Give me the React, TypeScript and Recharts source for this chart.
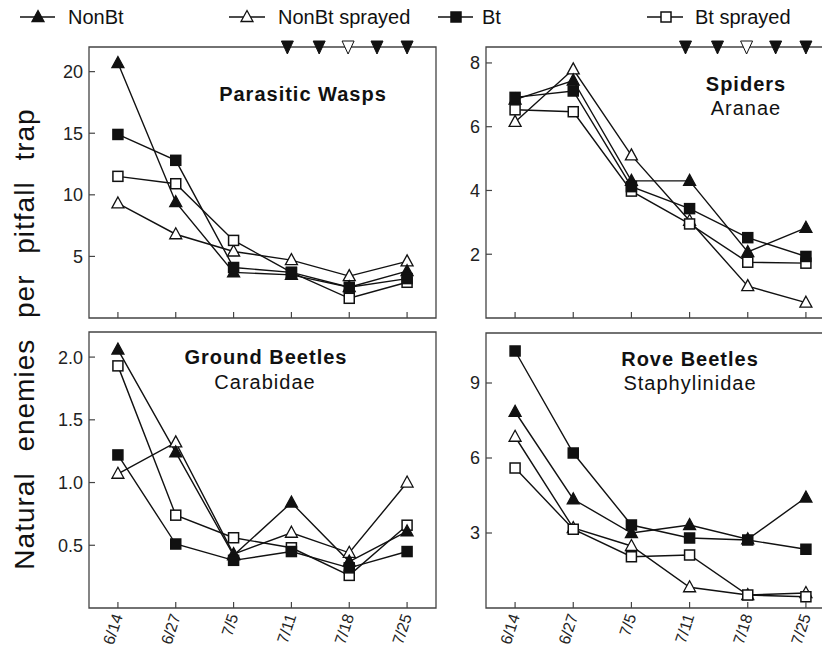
import React from "react";
import { LineChart, Line, XAxis, YAxis, ReferenceArea } from "recharts";

const dates = ["6/14", "6/27", "7/5", "7/11", "7/18", "7/25"];
// spray events shown above the top panels (category index units)
const sprayDays = [2.93, 3.48, 3.98, 4.48, 5.0];
const sprayOpen = [false, false, true, false, false];

const waspNonBt = [20.7, 9.4, 3.7, 3.5, 2.5, 3.8];
const waspNonBtSprayed = [9.3, 6.8, 5.4, 4.7, 3.4, 4.6];
const waspBt = [14.9, 12.8, 4.1, 3.7, 2.5, 3.2];
const waspBtSprayed = [11.5, 10.9, 6.3, 3.7, 1.6, 2.9];

const spiderNonBt = [6.85, 7.45, 4.3, 4.3, 2.07, 2.83];
const spiderNonBtSprayed = [6.15, 7.8, 5.1, 3.05, 1.0, 0.48];
const spiderBt = [6.92, 7.12, 4.12, 3.43, 2.52, 1.93];
const spiderBtSprayed = [6.53, 6.47, 3.98, 2.95, 1.75, 1.72];

const groundNonBt = [2.06, 1.24, 0.42, 0.84, 0.37, 0.61];
const groundNonBtSprayed = [1.07, 1.32, 0.43, 0.6, 0.44, 1.0];
const groundBt = [1.22, 0.51, 0.38, 0.45, 0.32, 0.45];
const groundBtSprayed = [1.93, 0.74, 0.56, 0.48, 0.26, 0.66];

const roveNonBt = [7.85, 4.35, 3.0, 3.32, 2.75, 4.42];
const roveNonBtSprayed = [6.85, 3.2, 2.48, 0.83, 0.52, 0.6];
const roveBt = [10.28, 6.2, 3.32, 2.8, 2.72, 2.35];
const roveBtSprayed = [5.6, 3.15, 2.05, 2.12, 0.52, 0.45];

const FONT = "'Liberation Sans', Arial, sans-serif";
const INK = "#111";
const BOX = "#444";

type Shape = "triFill" | "triOpen" | "sqFill" | "sqOpen";

function marker(shape: Shape, cx: number, cy: number, key?: string) {
  if (shape === "triFill" || shape === "triOpen") {
    const open = shape === "triOpen";
    return (
      <path
        key={key}
        d={`M${cx},${cy - 6.5}L${cx + 6},${cy + 4.5}L${cx - 6},${cy + 4.5}Z`}
        fill={open ? "#fff" : INK}
        stroke={INK}
        strokeWidth={1.3}
      />
    );
  }
  const open = shape === "sqOpen";
  return (
    <rect
      key={key}
      x={cx - 5}
      y={cy - 5}
      width={10}
      height={10}
      fill={open ? "#fff" : INK}
      stroke={INK}
      strokeWidth={1.5}
    />
  );
}

const dotOf = (shape: Shape) => (p: any) => marker(shape, p.cx, p.cy, `${shape}-${p.index}`);

const sprayDot = (p: any) => {
  const open = p.payload && p.payload.open;
  const { cx, cy } = p;
  return (
    <path
      key={`spray-${p.index}`}
      d={`M${cx - 6},${cy - 6}L${cx + 6},${cy - 6}L${cx},${cy + 7}Z`}
      fill={open ? "#fff" : INK}
      stroke={INK}
      strokeWidth={1}
    />
  );
};

const YTick = (props: any) => {
  const { x, y, payload, fmt } = props;
  return (
    <g>
      <line x1={x} x2={x + 6} y1={y} y2={y} stroke={BOX} strokeWidth={1.2} />
      <text x={x - 6} y={y} dy="0.36em" textAnchor="end" fontSize={18} fontFamily={FONT} fill="#222">
        {fmt ? fmt(payload.value) : payload.value}
      </text>
    </g>
  );
};

const XTick = (props: any) => {
  const { x, y, payload, showLabel } = props;
  const tx = x + 5;
  const ty = y + 8;
  return (
    <g>
      <line x1={x} x2={x} y1={y} y2={y - 6} stroke={BOX} strokeWidth={1.2} />
      {showLabel && (
        <text
          x={tx}
          y={ty}
          textAnchor="end"
          transform={`rotate(-72 ${tx} ${ty})`}
          fontSize={16}
          fontFamily={FONT}
          fill="#222"
        >
          {dates[payload.value]}
        </text>
      )}
    </g>
  );
};

type PanelProps = {
  left: number;
  top: number;
  width: number;
  height: number;
  margin: { top: number; right: number; bottom: number; left: number };
  yWidth: number;
  xHeight: number;
  yMax: number;
  yTicks: number[];
  yFmt?: (v: number) => string;
  labels: boolean;
  spray: boolean;
  nonBt: number[];
  nonBtSprayed: number[];
  bt: number[];
  btSprayed: number[];
};

function Panel(p: PanelProps) {
  const rows = dates.map((d, i) => ({
    x: i,
    nonBt: p.nonBt[i],
    nonBtSprayed: p.nonBtSprayed[i],
    bt: p.bt[i],
    btSprayed: p.btSprayed[i],
  }));
  const sprayRows = sprayDays.map((x, i) => ({ x, y: p.yMax, open: sprayOpen[i] }));
  const lineProps = { type: "linear" as const, stroke: INK, strokeWidth: 1.4, isAnimationActive: false };

  return (
    <div style={{ position: "absolute", left: p.left, top: p.top }}>
      <LineChart width={p.width} height={p.height} data={rows} margin={p.margin}>
        <XAxis
          dataKey="x"
          type="number"
          domain={[-0.5, 5.5]}
          ticks={[0, 1, 2, 3, 4, 5]}
          interval={0}
          height={p.xHeight}
          axisLine={false}
          tickLine={false}
          tickSize={0}
          tickMargin={0}
          tick={(t: any) => <XTick {...t} showLabel={p.labels} />}
        />
        <YAxis
          type="number"
          domain={[0, p.yMax]}
          ticks={p.yTicks}
          interval={0}
          width={p.yWidth}
          axisLine={false}
          tickLine={false}
          tickSize={0}
          tickMargin={0}
          tick={(t: any) => <YTick {...t} fmt={p.yFmt} />}
        />
        <ReferenceArea x1={-0.5} x2={5.5} y1={0} y2={p.yMax} fill="none" stroke={BOX} strokeWidth={1.3} />
        <Line {...lineProps} dataKey="nonBtSprayed" dot={dotOf("triOpen")} />
        <Line {...lineProps} dataKey="btSprayed" dot={dotOf("sqOpen")} />
        <Line {...lineProps} dataKey="nonBt" dot={dotOf("triFill")} />
        <Line {...lineProps} dataKey="bt" dot={dotOf("sqFill")} />
        {p.spray && (
          <Line
            data={sprayRows}
            dataKey="y"
            stroke="none"
            isAnimationActive={false}
            dot={sprayDot}
            activeDot={false}
          />
        )}
      </LineChart>
    </div>
  );
}

const legendItems: { label: string; shape: Shape; x1: number; x2: number; mx: number; tx: number }[] = [
  { label: "NonBt", shape: "triFill", x1: 20, x2: 55, mx: 38, tx: 68 },
  { label: "NonBt sprayed", shape: "triOpen", x1: 229, x2: 265, mx: 247, tx: 278 },
  { label: "Bt", shape: "sqFill", x1: 438, x2: 473, mx: 456, tx: 482 },
  { label: "Bt sprayed", shape: "sqOpen", x1: 647, x2: 683, mx: 666, tx: 695 },
];

export default function App() {
  return (
    <div
      style={{
        position: "fixed",
        left: 0,
        top: 0,
        width: 822,
        height: 646,
        overflow: "hidden",
        background: "#fff",
        fontFamily: FONT,
      }}
    >
      <Panel
        left={30}
        top={30}
        width={420}
        height={300}
        margin={{ top: 17, right: 14, bottom: 0, left: 0 }}
        yWidth={59}
        xHeight={12}
        yMax={22}
        yTicks={[5, 10, 15, 20]}
        labels={false}
        spray
        nonBt={waspNonBt}
        nonBtSprayed={waspNonBtSprayed}
        bt={waspBt}
        btSprayed={waspBtSprayed}
      />
      <Panel
        left={430}
        top={30}
        width={430}
        height={300}
        margin={{ top: 17, right: 25, bottom: 0, left: 0 }}
        yWidth={56}
        xHeight={12}
        yMax={8.5}
        yTicks={[2, 4, 6, 8]}
        labels={false}
        spray
        nonBt={spiderNonBt}
        nonBtSprayed={spiderNonBtSprayed}
        bt={spiderBt}
        btSprayed={spiderBtSprayed}
      />
      <Panel
        left={30}
        top={322}
        width={420}
        height={324}
        margin={{ top: 10, right: 14, bottom: 0, left: 0 }}
        yWidth={59}
        xHeight={38}
        yMax={2.2}
        yTicks={[0.5, 1, 1.5, 2]}
        yFmt={(v) => v.toFixed(1)}
        labels
        spray={false}
        nonBt={groundNonBt}
        nonBtSprayed={groundNonBtSprayed}
        bt={groundBt}
        btSprayed={groundBtSprayed}
      />
      <Panel
        left={430}
        top={322}
        width={430}
        height={324}
        margin={{ top: 11, right: 25, bottom: 0, left: 0 }}
        yWidth={56}
        xHeight={38}
        yMax={11}
        yTicks={[3, 6, 9]}
        labels
        spray={false}
        nonBt={roveNonBt}
        nonBtSprayed={roveNonBtSprayed}
        bt={roveBt}
        btSprayed={roveBtSprayed}
      />

      <svg
        width={822}
        height={646}
        style={{ position: "absolute", left: 0, top: 0, pointerEvents: "none" }}
        fontFamily={FONT}
      >
        {legendItems.map((it) => (
          <g key={it.label}>
            <line x1={it.x1} x2={it.x2} y1={17} y2={17} stroke={INK} strokeWidth={1.4} />
            {marker(it.shape, it.mx, 17)}
            <text x={it.tx} y={24} fontSize={20} fill="#111">
              {it.label}
            </text>
          </g>
        ))}

        <text
          x={24}
          y={339}
          transform="rotate(-90 24 339)"
          textAnchor="middle"
          dominantBaseline="central"
          fontSize={28}
          letterSpacing={1}
          wordSpacing={12}
          fill="#111"
        >
          Natural enemies per pitfall trap
        </text>

        <text x={303} y={101} textAnchor="middle" fontSize={20} fontWeight="bold" letterSpacing={1} fill="#111">
          Parasitic Wasps
        </text>
        <text x={746} y={91} textAnchor="middle" fontSize={20} fontWeight="bold" letterSpacing={1} fill="#111">
          Spiders
        </text>
        <text x={746} y={115} textAnchor="middle" fontSize={20} letterSpacing={1} fill="#111">
          Aranae
        </text>
        <text x={266} y={364} textAnchor="middle" fontSize={20} fontWeight="bold" letterSpacing={1} fill="#111">
          Ground Beetles
        </text>
        <text x={265} y={389} textAnchor="middle" fontSize={20} letterSpacing={1} fill="#111">
          Carabidae
        </text>
        <text x={690} y={366} textAnchor="middle" fontSize={20} fontWeight="bold" letterSpacing={1} fill="#111">
          Rove Beetles
        </text>
        <text x={690} y={390} textAnchor="middle" fontSize={20} letterSpacing={1} fill="#111">
          Staphylinidae
        </text>
      </svg>
    </div>
  );
}
